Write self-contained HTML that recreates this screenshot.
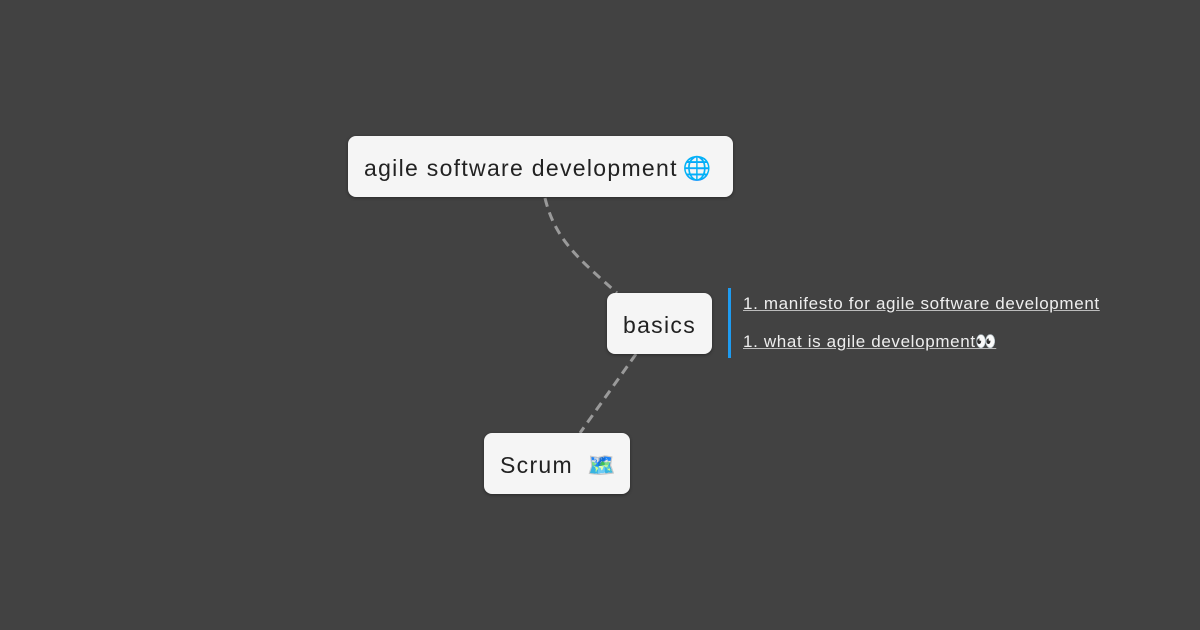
<!DOCTYPE html>
<html><head><meta charset="utf-8"><style>
body{margin:0;width:1200px;height:630px;background:#424242;position:relative;overflow:hidden;font-family:"Liberation Sans",sans-serif}
.n{position:absolute;background:#f5f5f5;border-radius:8px;box-shadow:0 1px 3px rgba(0,0,0,.4);color:#222;font-size:23px;display:flex;align-items:center;box-sizing:border-box;padding-left:16px;padding-top:3px;white-space:nowrap;letter-spacing:1.3px}
.l{position:absolute;left:743px;color:#eee;font-size:17px;text-decoration:underline;text-decoration-color:#bbb;white-space:nowrap;letter-spacing:0.65px}
</style></head><body>
<svg width="1200" height="630" style="position:absolute;left:0;top:0">
<path d="M545 198 C555 240,580 260,617 293" stroke="#9a9a9a" stroke-width="3" fill="none" stroke-dasharray="9,6"/>
<path d="M636 354 L580 433" stroke="#9a9a9a" stroke-width="3" fill="none" stroke-dasharray="9,6"/>
<rect x="728" y="288" width="3" height="70" fill="#1e9bf0"/>
</svg>
<div class="n" style="left:348px;top:136px;width:385px;height:61px">agile software development<span style="letter-spacing:0;margin-left:5px">🌐</span></div>
<div class="n" style="left:607px;top:293px;width:105px;height:61px">basics</div>
<div class="n" style="left:484px;top:433px;width:146px;height:61px">Scrum<span style="letter-spacing:0;margin-left:14px">🗺️</span></div>
<div class="l" style="top:294px">1. manifesto for agile software development</div>
<div class="l" style="top:332px">1. what is agile development <span style="text-decoration:none;letter-spacing:0;margin-left:-6px">👀</span></div>
</body></html>
